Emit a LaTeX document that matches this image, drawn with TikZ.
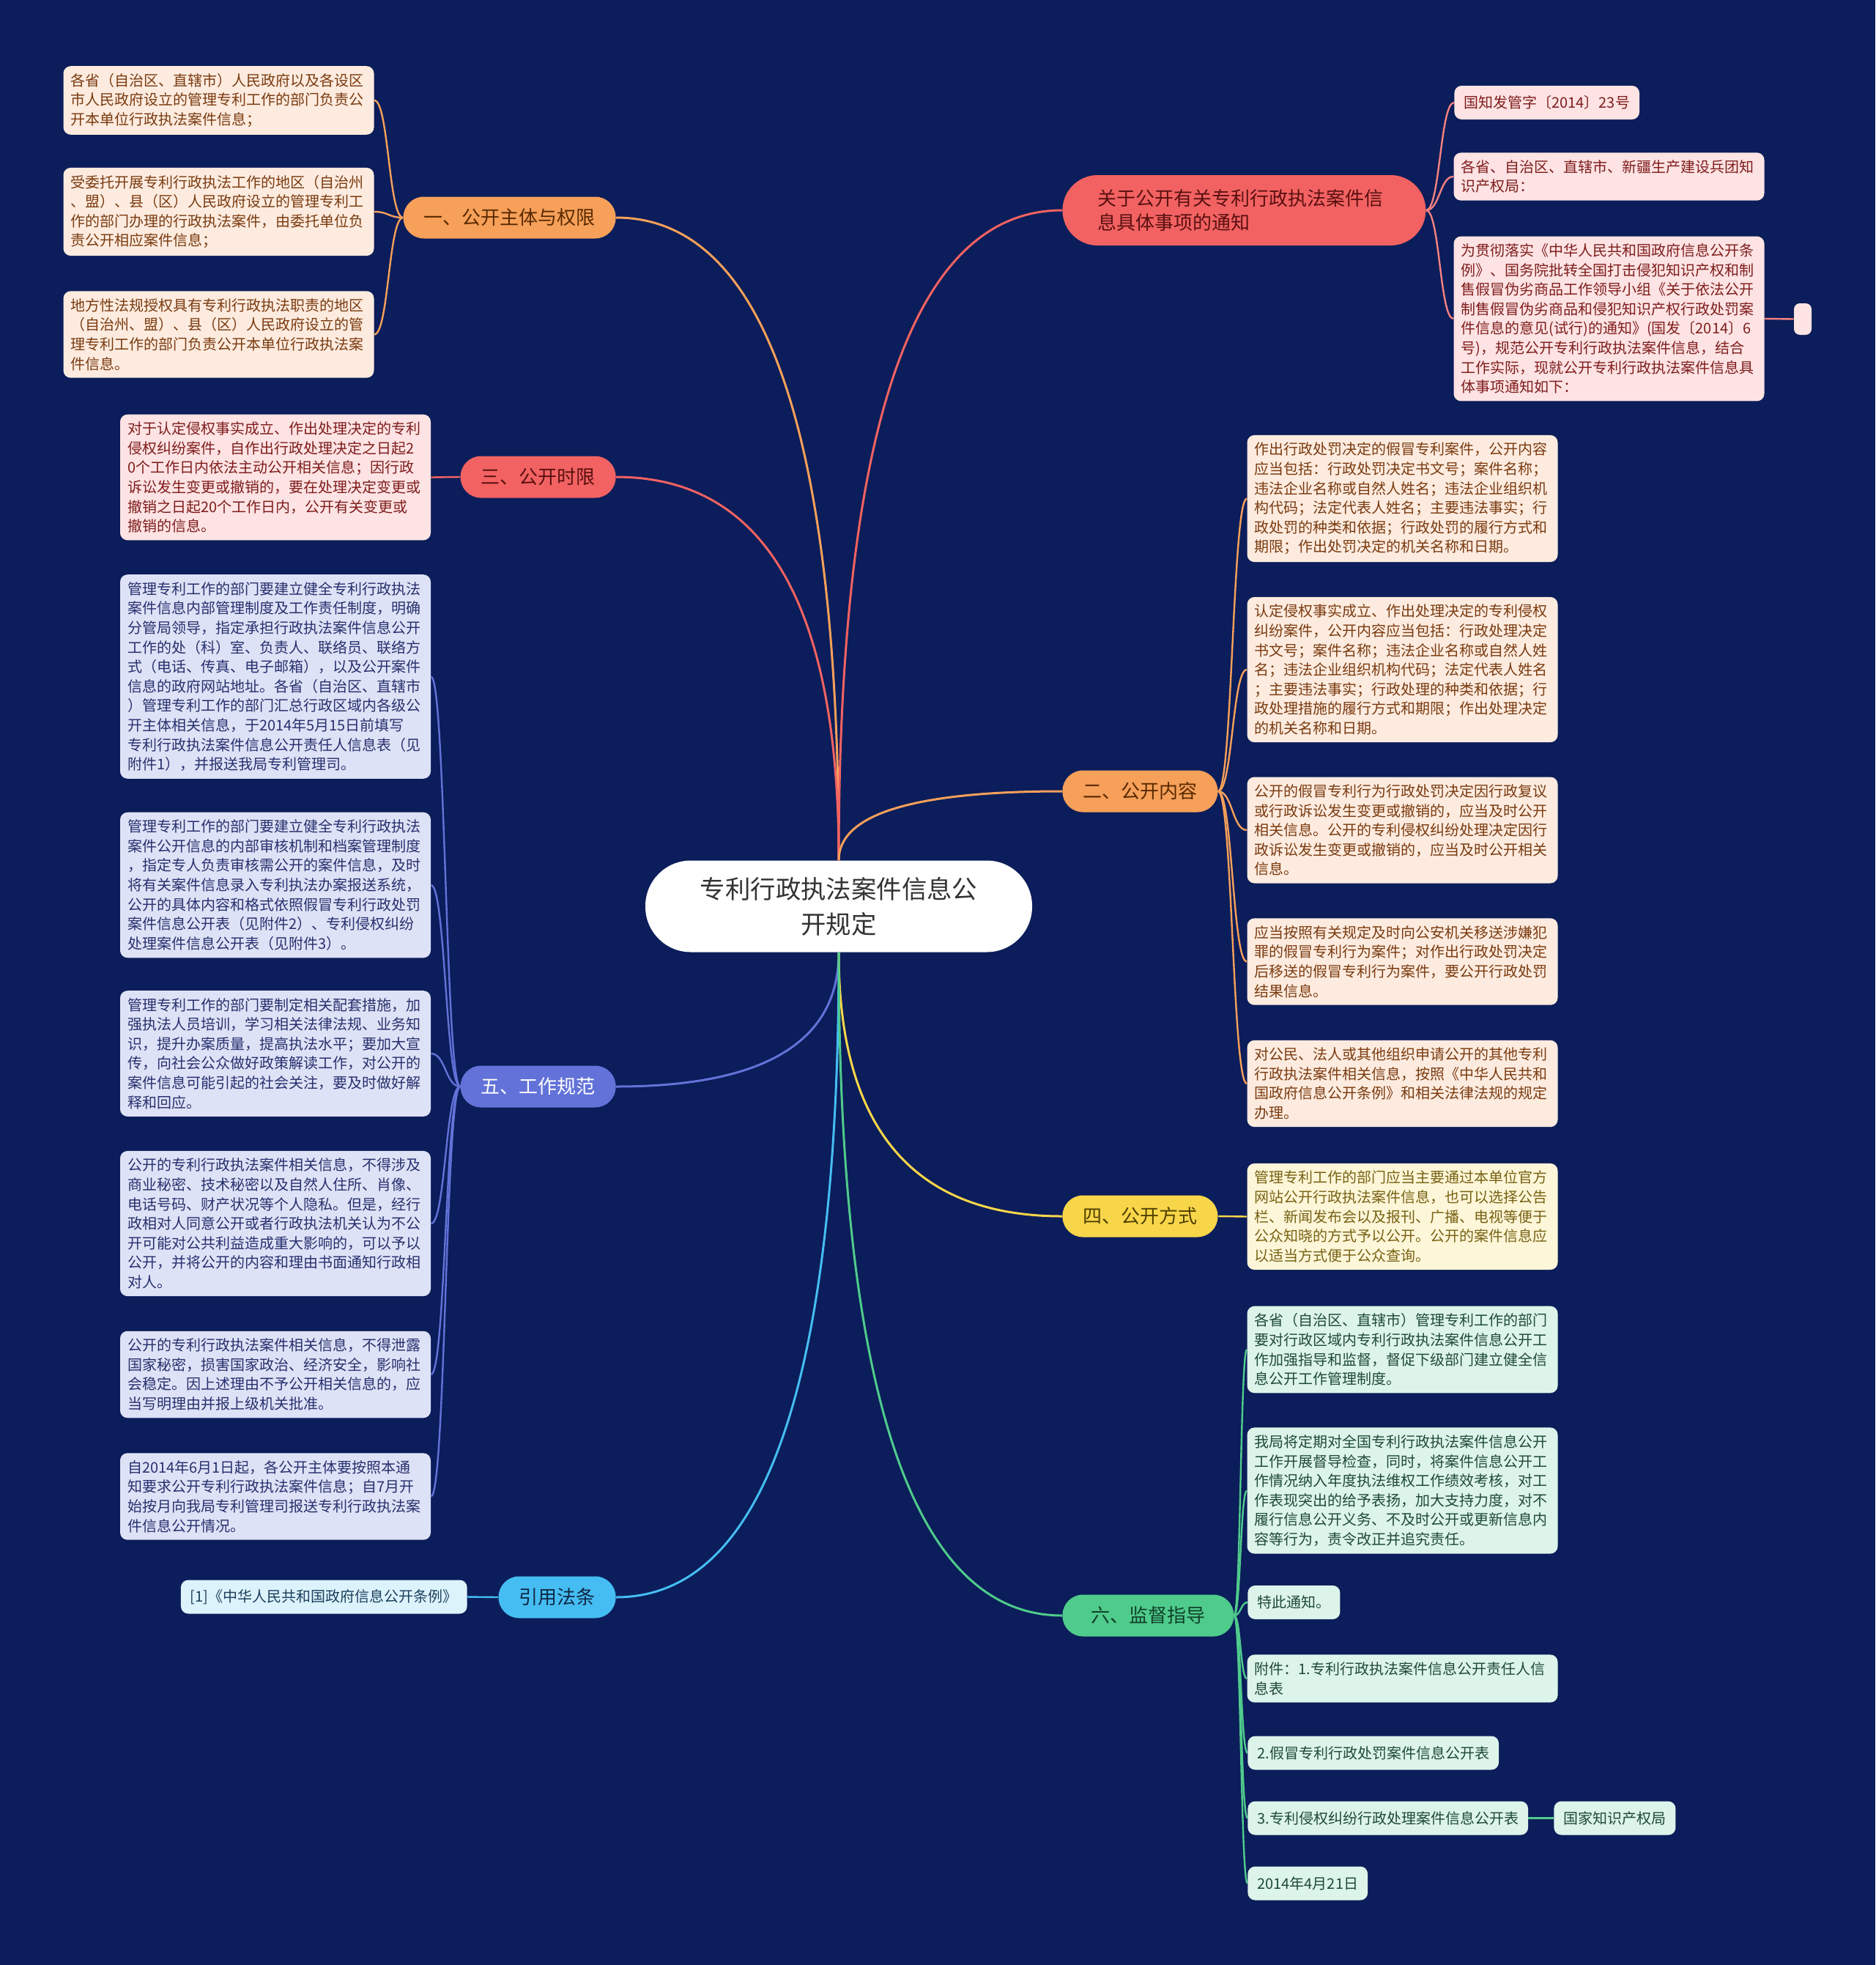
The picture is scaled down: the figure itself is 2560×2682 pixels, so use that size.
\documentclass[tikz,border=0pt]{standalone}
\usepackage{fontspec}
\setmainfont{Noto Sans CJK SC}
\usetikzlibrary{calc}
\definecolor{bg}{HTML}{0B1D5A}
\definecolor{corange}{HTML}{F6A05A}
\definecolor{cred}{HTML}{F26262}
\definecolor{cpurple}{HTML}{6272D8}
\definecolor{cblue}{HTML}{45BDF2}
\definecolor{cyellow}{HTML}{F8D64A}
\definecolor{cgreen}{HTML}{4FCB8C}
\definecolor{lorange}{HTML}{FDEBDF}
\definecolor{lpink}{HTML}{FDE3E3}
\definecolor{lpurple}{HTML}{DEE2F6}
\definecolor{lblue}{HTML}{DDF3FC}
\definecolor{lyellow}{HTML}{FEF6D8}
\definecolor{lgreen}{HTML}{DDF4EA}
\definecolor{torange}{HTML}{7A3B10}
\definecolor{tpink}{HTML}{7F1D1D}
\definecolor{tpurple}{HTML}{27306E}
\definecolor{tblue}{HTML}{1B3F5C}
\definecolor{tyellow}{HTML}{776214}
\definecolor{tgreen}{HTML}{1F4A36}
\newcommand\qconn[3]{\draw[#1,line width=1.5pt] (#2) .. controls ($(#2)!0.6667!(#2 |- #3)$) and ($(#3)!0.6667!(#2 |- #3)$) .. (#3);}
\newcommand\lconn[3]{\draw[#1,line width=1.2pt] (#2) .. controls ($(#2)!0.5!(#2 -| #3)$) and ($(#3)!0.5!(#3 -| #2)$) .. (#3);}
\begin{document}
\begin{tikzpicture}[x=0.5pt,y=-0.5pt,
  leaf/.style={rounded corners=5pt, inner xsep=5pt, inner ysep=5pt, font=\fontsize{10}{13.3}\selectfont, align=left},
  wide/.style={text width=202pt},
  one/.style={minimum height=23pt, inner xsep=6.5pt},
  branch/.style={rounded corners=14pt, minimum height=28.5pt, inner xsep=14pt, font=\fontsize{13}{16.7}\selectfont},
  lo/.style={leaf, fill=lorange, text=torange},
  lp/.style={leaf, fill=lpink, text=tpink},
  lu/.style={leaf, fill=lpurple, text=tpurple},
  lb/.style={leaf, fill=lblue, text=tblue},
  ly/.style={leaf, fill=lyellow, text=tyellow},
  lg/.style={leaf, fill=lgreen, text=tgreen}]
\fill[bg] (0,0) rectangle (2560,2682);
\useasboundingbox (0,0) rectangle (2560,2682);

% center
\node[fill=white, rounded corners=31pt, minimum width=264pt, minimum height=62.5pt, align=center, text={rgb,255:red,51;green,51;blue,51}, font=\fontsize{17.2}{24}\selectfont] (m) at (1145,1237) {专利行政执法案件信息公\\开规定};

% branches
\node[branch, fill=corange, text={rgb,255:red,90;green,42;blue,0}, anchor=east] (b1) at (841,297) {一、公开主体与权限};
\node[branch, fill=cred, text={rgb,255:red,90;green,16;blue,16}, anchor=east] (b3) at (841,651) {三、公开时限};
\node[branch, fill=cpurple, text=white, anchor=east] (b5) at (841,1483) {五、工作规范};
\node[branch, fill=cblue, text={rgb,255:red,16;green,40;blue,70}, anchor=east] (bq) at (841,2180) {引用法条};
\node[fill=cred, text={rgb,255:red,90;green,16;blue,16}, rounded corners=24pt, minimum height=48pt, inner xsep=24pt, text width=200pt, align=left, font=\fontsize{13}{16.7}\selectfont, anchor=west] (bt) at (1450,287) {关于公开有关专利行政执法案件信\\息具体事项的通知};
\node[branch, fill=corange, text={rgb,255:red,90;green,42;blue,0}, anchor=west] (b2) at (1450,1080) {二、公开内容};
\node[branch, fill=cyellow, text={rgb,255:red,80;green,64;blue,0}, anchor=west] (b4) at (1450,1660) {四、公开方式};
\node[branch, fill=cgreen, text={rgb,255:red,16;green,64;blue,40}, anchor=west, minimum width=117pt] (b6) at (1450,2205) {六、监督指导};

% center connectors
\qconn{corange}{m.north}{b1.east}
\qconn{cred}{m.north}{b3.east}
\qconn{cpurple}{m.south}{b5.east}
\qconn{cblue}{m.south}{bq.east}
\qconn{cred}{m.north}{bt.west}
\qconn{corange}{m.north}{b2.west}
\qconn{cyellow}{m.south}{b4.west}
\qconn{cgreen}{m.south}{b6.west}

% 一
\node[lo, wide] (l1a) at (298.5,137) {各省（自治区、直辖市）人民政府以及各设区\\市人民政府设立的管理专利工作的部门负责公\\开本单位行政执法案件信息；};
\node[lo, wide] (l1b) at (298.5,289) {受委托开展专利行政执法工作的地区（自治州\\、盟）、县（区）人民政府设立的管理专利工\\作的部门办理的行政执法案件，由委托单位负\\责公开相应案件信息；};
\node[lo, wide] (l1c) at (298.5,456.5) {地方性法规授权具有专利行政执法职责的地区\\（自治州、盟）、县（区）人民政府设立的管\\理专利工作的部门负责公开本单位行政执法案\\件信息。};
\lconn{corange}{b1.west}{l1a.east}
\lconn{corange}{b1.west}{l1b.east}
\lconn{corange}{b1.west}{l1c.east}

% 三
\node[lp, wide] (l3) at (376,651.5) {对于认定侵权事实成立、作出处理决定的专利\\侵权纠纷案件，自作出行政处理决定之日起2\\0个工作日内依法主动公开相关信息；因行政\\诉讼发生变更或撤销的，要在处理决定变更或\\撤销之日起20个工作日内，公开有关变更或\\撤销的信息。};
\lconn{cred}{b3.west}{l3.east}

% 五
\node[lu, wide] (l5a) at (376,923.5) {管理专利工作的部门要建立健全专利行政执法\\案件信息内部管理制度及工作责任制度，明确\\分管局领导，指定承担行政执法案件信息公开\\工作的处（科）室、负责人、联络员、联络方\\式（电话、传真、电子邮箱），以及公开案件\\信息的政府网站地址。各省（自治区、直辖市\\）管理专利工作的部门汇总行政区域内各级公\\开主体相关信息，于2014年5月15日前填写\\专利行政执法案件信息公开责任人信息表（见\\附件1），并报送我局专利管理司。};
\node[lu, wide] (l5b) at (376,1208) {管理专利工作的部门要建立健全专利行政执法\\案件公开信息的内部审核机制和档案管理制度\\，指定专人负责审核需公开的案件信息，及时\\将有关案件信息录入专利执法办案报送系统，\\公开的具体内容和格式依照假冒专利行政处罚\\案件信息公开表（见附件2）、专利侵权纠纷\\处理案件信息公开表（见附件3）。};
\node[lu, wide] (l5c) at (376,1438) {管理专利工作的部门要制定相关配套措施，加\\强执法人员培训，学习相关法律法规、业务知\\识，提升办案质量，提高执法水平；要加大宣\\传，向社会公众做好政策解读工作，对公开的\\案件信息可能引起的社会关注，要及时做好解\\释和回应。};
\node[lu, wide] (l5d) at (376,1670) {公开的专利行政执法案件相关信息，不得涉及\\商业秘密、技术秘密以及自然人住所、肖像、\\电话号码、财产状况等个人隐私。但是，经行\\政相对人同意公开或者行政执法机关认为不公\\开可能对公共利益造成重大影响的，可以予以\\公开，并将公开的内容和理由书面通知行政相\\对人。};
\node[lu, wide] (l5e) at (376,1876) {公开的专利行政执法案件相关信息，不得泄露\\国家秘密，损害国家政治、经济安全，影响社\\会稳定。因上述理由不予公开相关信息的，应\\当写明理由并报上级机关批准。};
\node[lu, wide] (l5f) at (376,2042.5) {自2014年6月1日起，各公开主体要按照本通\\知要求公开专利行政执法案件信息；自7月开\\始按月向我局专利管理司报送专利行政执法案\\件信息公开情况。};
\foreach \n in {l5a,l5b,l5c,l5d,l5e,l5f}{\lconn{cpurple}{b5.west}{\n.east}}

% 引用
\node[lb, one, anchor=east] (lq) at (638,2179.5) {[1]《中华人民共和国政府信息公开条例》};
\draw[cblue, line width=1.2pt] (bq.west) -- (lq.east);

% 关于
\node[lp, one, anchor=west] (r0a) at (1985,140) {国知发管字〔2014〕23号};
\node[lp, wide] (r0b) at (2196.5,241) {各省、自治区、直辖市、新疆生产建设兵团知\\识产权局：};
\node[lp, wide] (r0c) at (2196.5,435) {为贯彻落实《中华人民共和国政府信息公开条\\例》、国务院批转全国打击侵犯知识产权和制\\售假冒伪劣商品工作领导小组《关于依法公开\\制售假冒伪劣商品和侵犯知识产权行政处罚案\\件信息的意见(试行)的通知》(国发〔2014〕6\\号)，规范公开专利行政执法案件信息，结合\\工作实际，现就公开专利行政执法案件信息具\\体事项通知如下：};
\node[fill=lpink, rounded corners=4pt, minimum width=12pt, minimum height=21.5pt, inner sep=0pt] (r0x) at (2461,435.5) {};
\lconn{cred!80!white}{bt.east}{r0a.west}
\lconn{cred!80!white}{bt.east}{r0b.west}
\lconn{cred!80!white}{bt.east}{r0c.west}
\draw[cred!80!white, line width=1.2pt] (r0c.east) -- (r0x.west);

% 二
\node[lo, wide] (r2a) at (1914.5,680.5) {作出行政处罚决定的假冒专利案件，公开内容\\应当包括：行政处罚决定书文号；案件名称；\\违法企业名称或自然人姓名；违法企业组织机\\构代码；法定代表人姓名；主要违法事实；行\\政处罚的种类和依据；行政处罚的履行方式和\\期限；作出处罚决定的机关名称和日期。};
\node[lo, wide] (r2b) at (1914.5,914) {认定侵权事实成立、作出处理决定的专利侵权\\纠纷案件，公开内容应当包括：行政处理决定\\书文号；案件名称；违法企业名称或自然人姓\\名；违法企业组织机构代码；法定代表人姓名\\；主要违法事实；行政处理的种类和依据；行\\政处理措施的履行方式和期限；作出处理决定\\的机关名称和日期。};
\node[lo, wide] (r2c) at (1914.5,1133) {公开的假冒专利行为行政处罚决定因行政复议\\或行政诉讼发生变更或撤销的，应当及时公开\\相关信息。公开的专利侵权纠纷处理决定因行\\政诉讼发生变更或撤销的，应当及时公开相关\\信息。};
\node[lo, wide] (r2d) at (1914.5,1312.5) {应当按照有关规定及时向公安机关移送涉嫌犯\\罪的假冒专利行为案件；对作出行政处罚决定\\后移送的假冒专利行为案件，要公开行政处罚\\结果信息。};
\node[lo, wide] (r2e) at (1914.5,1479) {对公民、法人或其他组织申请公开的其他专利\\行政执法案件相关信息，按照《中华人民共和\\国政府信息公开条例》和相关法律法规的规定\\办理。};
\foreach \n in {r2a,r2b,r2c,r2d,r2e}{\lconn{corange}{b2.east}{\n.west}}

% 四
\node[ly, wide] (r4) at (1914.5,1660.5) {管理专利工作的部门应当主要通过本单位官方\\网站公开行政执法案件信息，也可以选择公告\\栏、新闻发布会以及报刊、广播、电视等便于\\公众知晓的方式予以公开。公开的案件信息应\\以适当方式便于公众查询。};
\lconn{cyellow}{b4.east}{r4.west}

% 六
\node[lg, wide] (r6a) at (1914.5,1842) {各省（自治区、直辖市）管理专利工作的部门\\要对行政区域内专利行政执法案件信息公开工\\作加强指导和监督，督促下级部门建立健全信\\息公开工作管理制度。};
\node[lg, wide] (r6b) at (1914.5,2034.5) {我局将定期对全国专利行政执法案件信息公开\\工作开展督导检查，同时，将案件信息公开工\\作情况纳入年度执法维权工作绩效考核，对工\\作表现突出的给予表扬，加大支持力度，对不\\履行信息公开义务、不及时公开或更新信息内\\容等行为，责令改正并追究责任。};
\node[lg, one, anchor=west] (r6c) at (1703,2187) {特此通知。};
\node[lg, wide] (r6d) at (1914.5,2291) {附件：1.专利行政执法案件信息公开责任人信\\息表};
\node[lg, one, anchor=west] (r6e) at (1703,2392.5) {2.假冒专利行政处罚案件信息公开表};
\node[lg, one, anchor=west] (r6f) at (1703,2481.5) {3.专利侵权纠纷行政处理案件信息公开表};
\node[lg, one, anchor=west] (r6g) at (2121,2481.5) {国家知识产权局};
\node[lg, one, anchor=west] (r6h) at (1703,2570.5) {2014年4月21日};
\foreach \n in {r6a,r6b,r6c,r6d,r6e,r6f,r6h}{\lconn{cgreen}{b6.east}{\n.west}}
\draw[cgreen, line width=1.2pt] (r6f.east) -- (r6g.west);
\end{tikzpicture}
\end{document}
